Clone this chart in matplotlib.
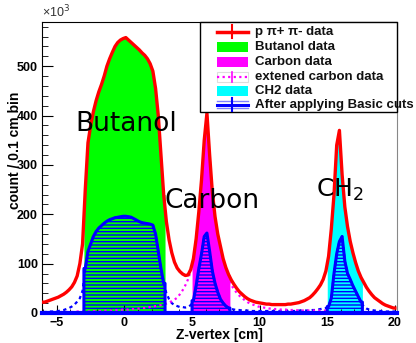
import numpy as np
import matplotlib.pyplot as plt
from matplotlib.patches import Rectangle

plt.rcParams['font.family'] = ['Liberation Sans', 'DejaVu Sans']
plt.rcParams['hatch.color'] = 'blue'
plt.rcParams['hatch.linewidth'] = 1.0

# bins de 0.2 cm entre -6 et 20 cm (valeurs en milliers)
bin_lo = -6.0
bin_width = 0.2

# p pi+ pi- data
total_counts = [
    22, 24, 26, 28, 30, 32, 35, 38, 42, 47, 53, 62, 75, 100, 140,
    250, 345, 380, 408, 430, 448, 463, 480, 500, 515, 528, 540, 548, 553, 556,
    558, 553, 548, 543, 538, 533, 527, 522, 515, 505, 490, 455, 400, 320, 240,
    185, 148, 122, 103, 91, 84, 79, 76, 77, 88,
    110, 150, 205, 270, 350, 405, 320, 245, 195, 160, 135, 110, 92, 78,
    67, 58, 50, 43, 38, 33, 29, 26, 24, 22, 21, 20, 19, 18, 18, 17, 17, 17,
    17, 17, 17, 18, 18, 19, 20, 21, 23, 25, 28, 31, 36, 42, 49, 57, 68, 85,
    115, 170, 240, 340, 370, 280, 215, 175, 145, 122, 102, 85, 72, 62, 52,
    44, 37, 31, 27, 23, 19, 16, 14, 12, 10,
]

# apres coupures de base
cut_counts = [
    2, 2, 3, 3, 4, 4, 5, 6, 8, 10, 13, 17, 23, 30, 45,
    90, 125, 140, 155, 165, 172, 177, 182, 186, 189, 191, 193, 194, 195, 196,
    196, 195, 194, 191, 188, 185, 183, 182, 181, 180, 178, 160, 125, 90, 60,
    40, 28, 20, 16, 14, 12, 12, 11, 12, 16,
    25, 55, 90, 120, 155, 162, 125, 85, 60, 42, 28, 20, 14, 10,
    8, 7, 6, 6, 5, 5, 5, 4, 4, 4, 4, 4, 4, 4, 4, 4, 4, 4,
    4, 4, 4, 4, 4, 4, 4, 5, 5, 5, 5, 5, 6, 6, 7, 8, 9, 10, 13,
    30, 80, 120, 145, 155, 105, 80, 68, 55, 44, 33, 22, 13, 9, 7,
    6, 5, 5, 4, 4, 3, 3, 3, 3, 3,
]

# carbone etendu, s'arrete a 15 cm
ext_carbon_counts = [
    1, 1, 1, 1, 1, 1, 2, 2, 2, 2, 2, 2, 3, 3, 3,
    3, 3, 3, 4, 4, 4, 4, 5, 5, 5, 5, 6, 6, 6, 7,
    7, 7, 8, 8, 9, 9, 10, 10, 11, 12, 13, 14, 15, 16, 17,
    19, 21, 24, 27, 31, 38, 46, 56, 68, 85,
    108, 148, 200, 265, 345, 398, 315, 240, 192, 155, 125, 100, 82, 68,
    57, 48, 41, 35, 30, 26, 22, 19, 17, 15, 13, 12, 11, 10, 9, 9, 8, 8,
    7, 7, 7, 6, 6, 6, 6, 5, 5, 5, 5, 5, 5, 5, 5, 5, 5, 5,
]

# fenetres des cibles
butanol_window = (-3.0, 3.0)
carbon_window = (5.0, 7.8)
ch2_window = (15.0, 17.6)

legend_labels = ['p \u03c0+ \u03c0- data', 'Butanol data', 'Carbon data',
                 'extened carbon data', 'CH2 data', 'After applying Basic cuts']


def centres_for(values):
    return bin_lo + bin_width * (np.arange(len(values)) + 0.5)


# courbe complete, prolongee jusqu'aux bords des premier et dernier bins
def full_curve(values):
    x = centres_for(values)
    x = np.concatenate([[x[0] - bin_width / 2], x, [x[-1] + bin_width / 2]])
    y = np.concatenate([[values[0]], values, [values[-1]]])
    return x, y


# partie d'un histogramme comprise dans une fenetre, fermee jusqu'a zero
def window_curve(values, window):
    i0 = int(round((window[0] - bin_lo) / bin_width))
    i1 = int(round((window[1] - bin_lo) / bin_width))
    v = np.array(values[i0:i1], dtype=float)
    x = centres_for(values)[i0:i1]
    x = np.concatenate([[window[0], window[0]], x, [window[1], window[1]]])
    y = np.concatenate([[0, v[0]], v, [v[-1], 0]])
    return x, y


fig = plt.figure(figsize=(4.16, 3.43), dpi=100)
ax = fig.add_axes([0.101, 0.0875, 0.853, 0.849])

# remplissages des cibles
for window, color in [(butanol_window, '#00ff00'), (carbon_window, '#ff00ff'), (ch2_window, '#00ffff')]:
    x, y = window_curve(total_counts, window)
    ax.fill_between(x, y, color=color, linewidth=0, zorder=1)

# coupures : hachures dans les fenetres
for window in [butanol_window, carbon_window, ch2_window]:
    x, y = window_curve(cut_counts, window)
    ax.fill_between(x, y, facecolor='none', edgecolor='blue', hatch='-----', linewidth=0, zorder=2)
    ax.plot(x, y, color='blue', linewidth=2.2, zorder=4)

x, y = full_curve(cut_counts)
ax.plot(x, y, color='blue', linewidth=1.6, linestyle=(0, (1.5, 1.5)), zorder=3)

x, y = full_curve(ext_carbon_counts)
ax.plot(x[:-1], y[:-1], color='#ff00ff', linewidth=1.6, linestyle=(0, (1, 1.5)), zorder=3)

x, y = full_curve(total_counts)
ax.plot(x, y, color='red', linewidth=2.4, zorder=5)

ax.axhline(0, color='blue', linewidth=3, zorder=6, clip_on=False)

ax.set_xlim(-6.1, 20.15)
ax.set_ylim(0, 590)
ax.set_xticks([-5, 0, 5, 10, 15, 20])
ax.set_xticks(np.arange(-6, 21, 1), minor=True)
ax.set_yticks([0, 100, 200, 300, 400, 500])
ax.set_yticks(np.arange(0, 590, 20), minor=True)
ax.tick_params(which='both', direction='in', top=False, right=False, labelsize=9, pad=3)
ax.tick_params(axis='y', which='major', length=8)
ax.tick_params(axis='y', which='minor', length=4)
ax.tick_params(axis='x', which='major', length=6)
ax.tick_params(axis='x', which='minor', length=3)
for lbl in ax.get_xticklabels() + ax.get_yticklabels():
    lbl.set_fontweight('bold')
ax.spines['right'].set_color('#888888')

ax.set_xlabel('Z-vertex [cm]', fontsize=10, fontweight='bold')
ax.xaxis.set_label_coords(0.5, -0.052)
ax.set_ylabel('count / 0.1 cm bin', fontsize=10, fontweight='bold')
ax.yaxis.set_label_coords(-0.056, 0.557)
ax.text(0.0, 1.014, '\u00d710$^3$', transform=ax.transAxes, fontsize=9, color='#333333',
        ha='left', va='baseline')

# noms des cibles
ax.text(0.1, 369, 'Butanol', fontsize=19, family='DejaVu Sans', ha='center', va='baseline', zorder=7)
ax.text(6.48, 213, 'Carbon', fontsize=19, family='DejaVu Sans', ha='center', va='baseline', zorder=7)
ax.text(15.96, 235, 'CH$_2$', fontsize=18, family='DejaVu Sans', ha='center', va='baseline', zorder=7)

# legende dessinee a la main
tr = ax.transAxes
ax.add_patch(Rectangle((0.445, 0.69), 0.555, 0.31, transform=tr, facecolor='white',
                       edgecolor='black', linewidth=1, zorder=10, clip_on=False))
rows = [0.966, 0.914, 0.863, 0.811, 0.763, 0.715]
hx0, hx1 = 0.493, 0.580
hmid = (hx0 + hx1) / 2
ax.plot([hx0, hx1], [rows[0]] * 2, color='red', linewidth=2.5, transform=tr, zorder=11, clip_on=False)
ax.plot([hmid] * 2, [rows[0] - 0.022, rows[0] + 0.022], color='red', linewidth=1.5, transform=tr, zorder=11, clip_on=False)
for y, color in [(rows[1], '#00ff00'), (rows[2], '#ff00ff'), (rows[4], '#00ffff')]:
    ax.add_patch(Rectangle((hx0, y - 0.017), hx1 - hx0, 0.034, transform=tr, facecolor=color,
                           linewidth=0, zorder=11, clip_on=False))
ax.add_patch(Rectangle((hx0, rows[3] - 0.017), hx1 - hx0, 0.034, transform=tr, facecolor='white',
                       edgecolor='#dddddd', linewidth=0.8, zorder=11, clip_on=False))
ax.plot([hx0, hx1], [rows[3]] * 2, color='#ff00ff', linewidth=1.6, linestyle=(0, (1, 1.5)),
        transform=tr, zorder=12, clip_on=False)
ax.plot([hmid] * 2, [rows[3] - 0.018, rows[3] + 0.018], color='#ff00ff', linewidth=1.2, transform=tr, zorder=12, clip_on=False)
for dy in (-0.012, 0.012):
    ax.plot([hx0, hx1], [rows[5] + dy] * 2, color='#8080ff', linewidth=1.0, transform=tr, zorder=11, clip_on=False)
ax.plot([hx0, hx1], [rows[5]] * 2, color='blue', linewidth=2.2, transform=tr, zorder=12, clip_on=False)
ax.plot([hmid] * 2, [rows[5] - 0.022, rows[5] + 0.022], color='blue', linewidth=1.5, transform=tr, zorder=12, clip_on=False)

for y, label in zip(rows, legend_labels):
    ax.text(0.600, y, label, transform=tr, fontsize=9.5, fontweight='bold', color='#111111',
            va='center', ha='left', zorder=12, clip_on=False)

fig.savefig('out.png', dpi=100)
